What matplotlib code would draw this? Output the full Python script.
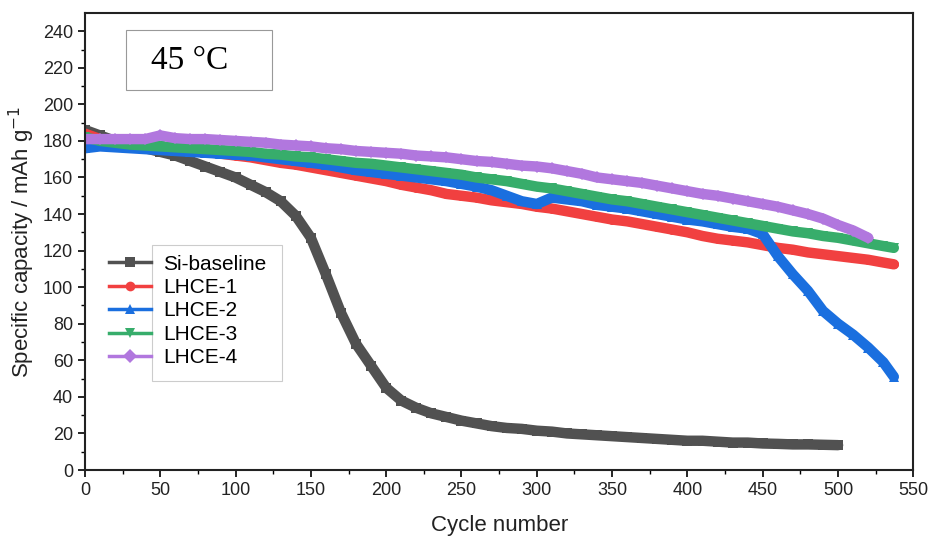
import numpy as np
import matplotlib
matplotlib.use("Agg")
import matplotlib.pyplot as plt
from matplotlib.lines import Line2D
from matplotlib.patches import Rectangle

# ---------------- data (every 10 cycles) ----------------
cyc_si = [0, 10, 20, 30, 40, 50, 60, 70, 80, 90, 100, 110, 120, 130, 140, 150, 160, 170, 180, 190,
          200, 210, 220, 230, 240, 250, 260, 270, 280, 290, 300, 310, 320, 330, 340, 350, 360, 370,
          380, 390, 400, 410, 420, 430, 440, 450, 460, 470, 480, 490, 500]
cap_si = [186, 183, 180, 178, 176, 174, 172, 169, 166, 163, 160, 156, 152, 147, 139, 127, 107, 86, 69, 57,
          45, 38, 34, 31, 29, 27, 25.5, 24, 23, 22.5, 21.5, 21, 20, 19.5, 19, 18.5, 18, 17.5,
          17, 16.5, 16, 16, 15.5, 15, 15, 14.5, 14.3, 14, 14, 13.8, 13.6]

cyc_l = [0, 10, 20, 30, 40, 50, 60, 70, 80, 90, 100, 110, 120, 130, 140, 150, 160, 170, 180, 190,
         200, 210, 220, 230, 240, 250, 260, 270, 280, 290, 300, 310, 320, 330, 340, 350, 360, 370,
         380, 390, 400, 410, 420, 430, 440, 450, 460, 470, 480, 490, 500, 510, 520, 530, 537]
cap_l1 = [184, 181, 179, 178, 177, 176, 175, 174.5, 174, 173, 172, 171, 169.5, 168, 167, 165.5, 164, 162.5,
          161, 159.5, 158, 156, 154.5, 153, 151, 150, 149, 147.5, 146.5, 145.5, 144, 143, 141.5, 140,
          138.5, 137, 136, 134.5, 133, 131.5, 130, 128, 126.5, 125.5, 124.5, 123, 121.5, 120.5, 119,
          118, 117, 116, 115, 113.5, 112.5]
cap_l2 = [176, 177, 176.5, 176, 175.5, 175, 174.5, 174, 173.5, 173, 172.5, 172, 171, 170, 169, 168, 167,
          165.5, 164, 163, 162, 161, 160, 159, 158, 156.5, 155, 153, 150, 147, 145.5, 149, 148, 147,
          145, 144, 143, 141.5, 140, 138.5, 137, 136, 134.5, 133, 132, 129, 117, 107, 98, 87, 80, 74,
          67, 59, 51]
cap_l3 = [182, 180, 179, 178, 177.5, 177, 176.5, 176, 175.5, 175, 174.5, 174, 173, 172.5, 171.5, 171, 170,
          169, 168, 167.5, 166.5, 165.5, 164.5, 163.5, 162.5, 161.5, 160, 159, 158, 156.5, 155, 154,
          152.5, 151, 149.5, 148, 147, 145.5, 144, 142.5, 141, 139.5, 138, 136.5, 135, 133.5, 132,
          130.5, 129.5, 128, 127, 125.5, 124, 122.5, 121.5]

cyc_l4 = [0, 10, 20, 30, 40, 50, 60, 70, 80, 90, 100, 110, 120, 130, 140, 150, 160, 170, 180, 190,
          200, 210, 220, 230, 240, 250, 260, 270, 280, 290, 300, 310, 320, 330, 340, 350, 360, 370,
          380, 390, 400, 410, 420, 430, 440, 450, 460, 470, 480, 490, 500, 510, 520]
cap_l4 = [181, 181, 181, 181, 181, 183, 181.5, 181, 181, 180.5, 180, 179.5, 179, 178, 177.5, 177, 176,
          175.5, 174.5, 174, 173.5, 173, 172, 171.5, 171, 170, 169, 168.5, 167.5, 166.5, 166, 165,
          163.5, 162, 160, 159, 158, 157, 155.5, 154, 152.5, 151, 150, 148.5, 147, 145.5, 144, 142,
          140, 137.5, 134, 131, 127]

labels = ["Si-baseline", "LHCE-1", "LHCE-2", "LHCE-3", "LHCE-4"]
colors = ["#515151", "#F14040", "#1A6FDF", "#37AD6B", "#B177DE"]
markers = ["s", "o", "^", "v", "D"]

# ---------------- plot ----------------
plt.rcParams["font.family"] = ["Liberation Sans", "DejaVu Sans"]

fig = plt.figure(figsize=(9.33, 5.39), dpi=100)
ax = fig.add_axes([0.091, 0.128, 0.888, 0.848])

series = [(cyc_si, cap_si), (cyc_l, cap_l1), (cyc_l, cap_l2), (cyc_l, cap_l3), (cyc_l4, cap_l4)]
for (x, y), c, m in zip(series, colors, markers):
    ax.plot(x, y, color=c, lw=7.5, marker=m, ms=6.5, mew=0,
            solid_capstyle="round", solid_joinstyle="round")

ax.set_xlim(0, 550)
ax.set_ylim(0, 250)
ax.set_xticks(np.arange(0, 551, 50))
ax.set_yticks(np.arange(0, 241, 20))
ax.set_xticks(np.arange(25, 550, 50), minor=True)
ax.set_yticks(np.arange(10, 250, 20), minor=True)
ax.tick_params(which="major", direction="out", length=5, width=1.2, labelsize=13,
               labelcolor="#222222")
ax.tick_params(which="minor", direction="out", length=3, width=1.0)
for s in ax.spines.values():
    s.set_linewidth(1.5)
    s.set_color("#222222")

ax.set_xlabel("Cycle number", fontsize=16, color="#222222", labelpad=12)
ax.set_ylabel("Specific capacity / mAh g$^{-1}$", fontsize=16, color="#222222", labelpad=4)

# temperature box
ax.add_patch(Rectangle((0.0495, 0.832), 0.1765, 0.131, transform=ax.transAxes,
                       fc="white", ec="#999999", lw=0.8, zorder=5))
ax.text(0.127, 0.895, "45 °C", transform=ax.transAxes, fontsize=24,
        family="Liberation Serif", ha="center", va="center", zorder=6)

# legend: handles sit outside the frame, like in Origin
handles = [Line2D([], [], color=c, lw=2.5, marker=m, ms=7, mew=0)
           for c, m in zip(colors, markers)]
ax.legend(handles, labels, loc="upper left", bbox_to_anchor=(0.029, 0.471),
          frameon=False, fontsize=15, handlelength=2.0, handletextpad=0.6,
          labelspacing=0.21, borderpad=0, borderaxespad=0)
ax.add_patch(Rectangle((0.081, 0.195), 0.157, 0.297, transform=ax.transAxes,
                       fill=False, ec="#cccccc", lw=0.8, zorder=5))

fig.savefig("out.png", dpi=100)
